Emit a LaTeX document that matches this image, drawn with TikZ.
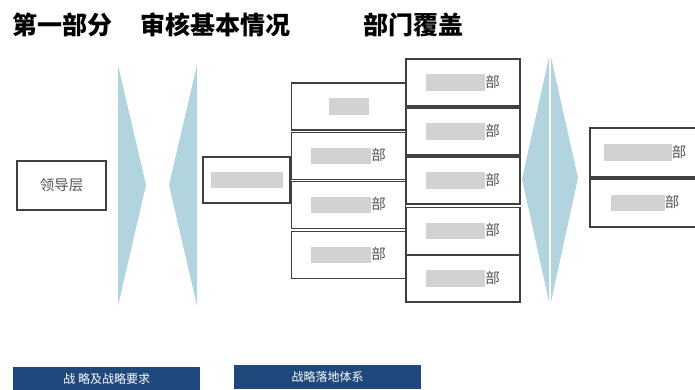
\documentclass[tikz,border=0pt]{standalone}
\usepackage{fontspec}
\setmainfont{Noto Sans CJK SC}
\definecolor{lineGray}{HTML}{404040}
\definecolor{arrowBlue}{HTML}{B2D4DF}
\definecolor{barBlue}{HTML}{1F497D}
\newcommand{\blurblob}[1]{{\color{gray!35}\rule[-0.25em]{#1pt}{1.15em}}}
\tikzset{
  deptbox/.style={draw=lineGray, line width=1.2pt, fill=white, text=lineGray!90,
    font=\fontsize{14.5}{17}\selectfont, inner sep=0pt},
  titletext/.style={font=\fontsize{25}{29}\selectfont\bfseries, text=black, inner sep=0pt},
  barbox/.style={fill=barBlue, text=white, font=\fontsize{12}{14}\selectfont, inner sep=0pt}
}
\begin{document}
\begin{tikzpicture}[x=1pt,y=-1pt]
\useasboundingbox (0,0) rectangle (695,390);

% Titel
\node[titletext, anchor=west] (title1) at (12,25) {第一部分};
\node[titletext, anchor=west] (title2) at (140,25) {审核基本情况};
\node[titletext, anchor=west] (title3) at (363,25) {部门覆盖};

% Pfeile
\fill[arrowBlue] (118,65) -- (146,185) -- (118,306) -- cycle;
\fill[arrowBlue] (197,65) -- (169,185) -- (197,306) -- cycle;
\fill[arrowBlue] (549,57) -- (522,179) -- (549,302) -- cycle;
\fill[arrowBlue] (551,57) -- (578,178) -- (551,302) -- cycle;

% Leitung
\node[deptbox, minimum width=89pt, minimum height=49pt] (lead) at (61.5,185.5) {领导层};
\node[deptbox, minimum width=87pt, minimum height=46pt] (mid) at (246.5,180) {\blurblob{72}};

% Spalte 1
\node[deptbox, minimum width=114pt, minimum height=47pt] (colA1) at (348.5,106.5) {\blurblob{40}\hspace{12pt}};
\node[deptbox, minimum width=114pt, minimum height=47pt] (colA2) at (348.5,156) {\blurblob{60}部};
\node[deptbox, minimum width=114pt, minimum height=47pt] (colA3) at (348.5,205) {\blurblob{60}部};
\node[deptbox, minimum width=114pt, minimum height=47pt] (colA4) at (348.5,255) {\blurblob{60}部};

% Spalte 2
\foreach \n/\y in {1/82.5, 2/131.5, 3/180.5, 4/231, 5/278.5}
  \node[deptbox, minimum width=114pt, minimum height=47pt] (colB\n) at (463,\y) {\blurblob{59}部};

% rechts
\node[deptbox, minimum width=110pt, minimum height=49pt] (right1) at (645,152.5) {\blurblob{68}部\hspace{14pt}};
\node[deptbox, minimum width=110pt, minimum height=48pt] (right2) at (645,203) {\blurblob{54}部\hspace{14pt}};

% Balken unten
\node[barbox, minimum width=187pt, minimum height=24pt, anchor=north west] (bar1) at (13,367) {战 略及战略要求};
\node[barbox, minimum width=187pt, minimum height=24pt, anchor=north west] (bar2) at (234,365) {战略落地体系};
\end{tikzpicture}
\end{document}
